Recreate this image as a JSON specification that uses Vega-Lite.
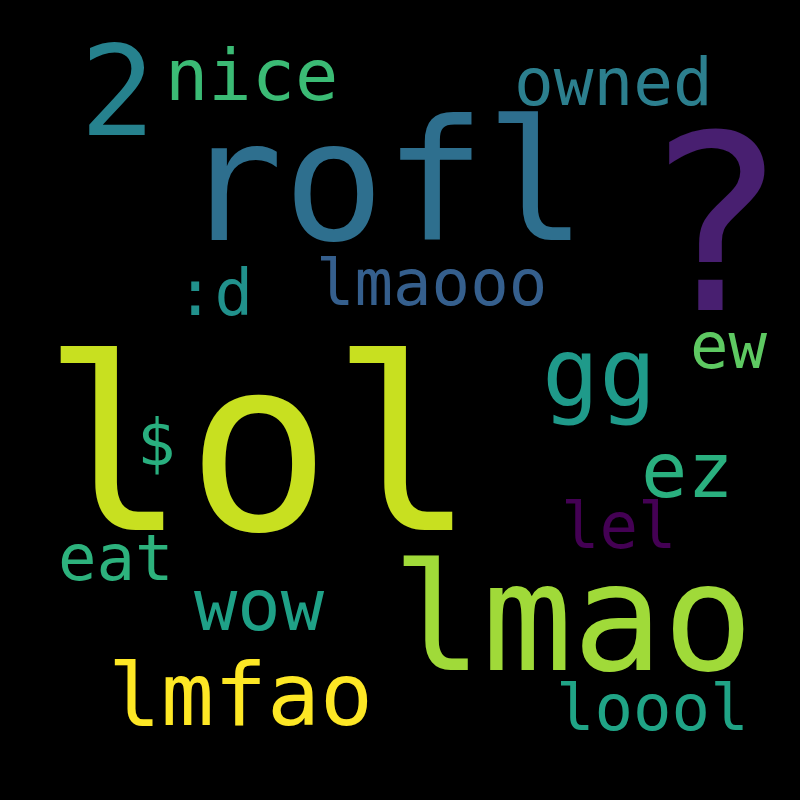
{
  "$schema": "https://vega.github.io/schema/vega-lite/v6.json",
  "width": 800,
  "height": 800,
  "padding": 0,
  "autosize": {"type": "fit", "contains": "padding"},
  "background": "#000000",
  "view": {"stroke": null},
  "data": {
    "values": [
      {"word": "lol", "x": 42, "y": 530, "size": 240, "color": "#c8e020"},
      {"word": "rofl", "x": 182, "y": 240, "size": 168, "color": "#2e6f8e"},
      {"word": "?", "x": 640, "y": 310, "size": 245, "color": "#481f70"},
      {"word": "lmao", "x": 392, "y": 670, "size": 150, "color": "#a0da39"},
      {"word": "lmfao", "x": 108, "y": 725, "size": 88, "color": "#fde725"},
      {"word": "2", "x": 80, "y": 135, "size": 125, "color": "#26828e"},
      {"word": "nice", "x": 165, "y": 100, "size": 72, "color": "#3bbb75"},
      {"word": "owned", "x": 514, "y": 105, "size": 66, "color": "#2c7f8e"},
      {"word": "lmaooo", "x": 316, "y": 305, "size": 64, "color": "#355f8d"},
      {"word": ":d", "x": 176, "y": 315, "size": 64, "color": "#21918c"},
      {"word": "gg", "x": 542, "y": 405, "size": 95, "color": "#1f9a8a"},
      {"word": "ew", "x": 690, "y": 368, "size": 64, "color": "#5ec962"},
      {"word": "$", "x": 137, "y": 465, "size": 64, "color": "#29af7f"},
      {"word": "ez", "x": 641, "y": 497, "size": 77, "color": "#2ab07f"},
      {"word": "lel", "x": 561, "y": 548, "size": 64, "color": "#440154"},
      {"word": "eat", "x": 58, "y": 580, "size": 64, "color": "#2db27d"},
      {"word": "wow", "x": 194, "y": 630, "size": 72, "color": "#1fa187"},
      {"word": "loool", "x": 556, "y": 730, "size": 64, "color": "#20a486"}
    ]
  },
  "mark": {"type": "text", "font": "DejaVu Sans Mono", "align": "left", "baseline": "alphabetic"},
  "encoding": {
    "x": {"field": "x", "type": "quantitative", "scale": {"domain": [0, 800]}, "axis": null},
    "y": {"field": "y", "type": "quantitative", "scale": {"domain": [0, 800], "reverse": true}, "axis": null},
    "text": {"field": "word", "type": "nominal"},
    "size": {"field": "size", "type": "quantitative", "scale": null},
    "color": {"field": "color", "type": "nominal", "scale": null}
  }
}
